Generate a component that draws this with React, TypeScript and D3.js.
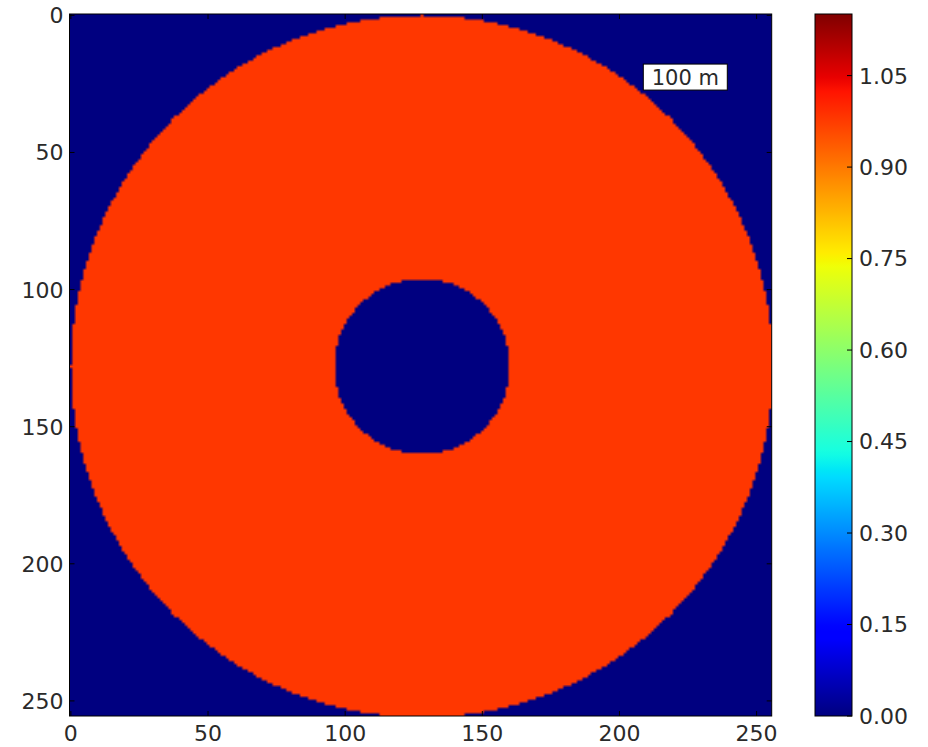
import React, { useMemo } from "react";
import * as d3 from "d3";

// ---- data ----
const gridSize = 256;
const ringCenter = [128, 128];
const ringRadii = [32, 128]; // inner, outer
const ringValue = 0.98;
const backgroundValue = 0;
const colorMax = 1.151;
const xTicks = [0, 50, 100, 150, 200, 250];
const yTicks = [0, 50, 100, 150, 200, 250];
const cbTicks = [0, 0.15, 0.3, 0.45, 0.6, 0.75, 0.9, 1.05];
const annotationText = "100 m";
const annotationPos = [224, 22.5];

// matplotlib jet segment data
const jetR: [number, number][] = [[0, 0], [0.35, 0], [0.66, 1], [0.89, 1], [1, 0.5]];
const jetG: [number, number][] = [[0, 0], [0.125, 0], [0.375, 1], [0.64, 1], [0.91, 0], [1, 0]];
const jetB: [number, number][] = [[0, 0.5], [0.11, 1], [0.34, 1], [0.65, 0], [1, 0]];

const chan = (seg: [number, number][]) =>
  d3.scaleLinear().domain(seg.map((s) => s[0])).range(seg.map((s) => s[1])).clamp(true);
const rS = chan(jetR), gS = chan(jetG), bS = chan(jetB);
const jet = (t: number) => [rS(t), gS(t), bS(t)].map((c) => Math.round(c * 255));
const jetStr = (t: number) => { const c = jet(t); return `rgb(${c[0]},${c[1]},${c[2]})`; };

const W = 928, H = 747;
const plot = { left: 69.5, right: 771.7, top: 14, bottom: 716 };
const cb = { left: 815, right: 852, top: 14, bottom: 716 };
const font = "'DejaVu Sans', sans-serif";
const fs = 22;
const txt = "#2a2a2a";

export default function App() {
  const x = d3.scaleLinear().domain([-0.5, gridSize - 0.5]).range([plot.left, plot.right]);
  const y = d3.scaleLinear().domain([-0.5, gridSize - 0.5]).range([plot.top, plot.bottom]);
  const c = d3.scaleLinear().domain([0, colorMax]).range([cb.bottom, cb.top]);

  const href = useMemo(() => {
    const canvas = document.createElement("canvas");
    canvas.width = gridSize; canvas.height = gridSize;
    const ctx = canvas.getContext("2d")!;
    const img = ctx.createImageData(gridSize, gridSize);
    for (let j = 0; j < gridSize; j++) {
      for (let i = 0; i < gridSize; i++) {
        const r = Math.hypot(i - ringCenter[0], j - ringCenter[1]);
        const v = r >= ringRadii[0] && r <= ringRadii[1] ? ringValue : backgroundValue;
        const col = jet(v / colorMax);
        const k = (j * gridSize + i) * 4;
        img.data[k] = col[0]; img.data[k + 1] = col[1]; img.data[k + 2] = col[2]; img.data[k + 3] = 255;
      }
    }
    ctx.putImageData(img, 0, 0);
    return canvas.toDataURL();
  }, []);

  const stops = d3.range(0, 1.0001, 0.01);
  const tl = 5;

  return (
    <svg width={W} height={H} style={{ position: "absolute", left: 0, top: 0, background: "#fff" }}>
      <defs>
        <linearGradient id="jetgrad" x1="0" y1="1" x2="0" y2="0">
          {stops.map((s) => (
            <stop key={s} offset={s} stopColor={jetStr(s)} />
          ))}
        </linearGradient>
      </defs>
      <image
        href={href}
        x={plot.left}
        y={plot.top}
        width={plot.right - plot.left}
        height={plot.bottom - plot.top}
        preserveAspectRatio="none"
      />
      {/* annotation */}
      <g>
        <rect
          x={x(annotationPos[0]) - 42}
          y={y(annotationPos[1]) - 13}
          width={84}
          height={26}
          fill="#fff"
          stroke="#000"
          strokeWidth={1}
        />
        <text
          x={x(annotationPos[0])}
          y={y(annotationPos[1])}
          dy="0.36em"
          textAnchor="middle"
          fontFamily={font}
          fontSize={21}
          fill={txt}
        >
          {annotationText}
        </text>
      </g>
      {/* ticks */}
      {xTicks.map((t) => (
        <g key={"x" + t}>
          <line x1={x(t)} x2={x(t)} y1={plot.bottom} y2={plot.bottom - tl} stroke="#000" />
          <line x1={x(t)} x2={x(t)} y1={plot.top} y2={plot.top + tl} stroke="#000" />
          <text x={x(t)} y={plot.bottom + 25} textAnchor="middle" fontFamily={font} fontSize={fs} fill={txt}>
            {t}
          </text>
        </g>
      ))}
      {yTicks.map((t) => (
        <g key={"y" + t}>
          <line x1={plot.left} x2={plot.left + tl} y1={y(t)} y2={y(t)} stroke="#000" />
          <line x1={plot.right} x2={plot.right - tl} y1={y(t)} y2={y(t)} stroke="#000" />
          <text x={plot.left - 6} y={y(t)} dy="0.36em" textAnchor="end" fontFamily={font} fontSize={fs} fill={txt}>
            {t}
          </text>
        </g>
      ))}
      <rect
        x={plot.left}
        y={plot.top}
        width={plot.right - plot.left}
        height={plot.bottom - plot.top}
        fill="none"
        stroke="#000"
        strokeWidth={1}
      />
      {/* colorbar */}
      <rect x={cb.left} y={cb.top} width={cb.right - cb.left} height={cb.bottom - cb.top} fill="url(#jetgrad)" />
      {cbTicks.map((t) => (
        <g key={"c" + t}>
          <line x1={cb.right} x2={cb.right - tl} y1={c(t)} y2={c(t)} stroke="#000" />
          <text x={cb.right + 7} y={c(t)} dy="0.36em" textAnchor="start" fontFamily={font} fontSize={fs} fill={txt}>
            {t.toFixed(2)}
          </text>
        </g>
      ))}
      <rect
        x={cb.left}
        y={cb.top}
        width={cb.right - cb.left}
        height={cb.bottom - cb.top}
        fill="none"
        stroke="#000"
        strokeWidth={1}
      />
    </svg>
  );
}
